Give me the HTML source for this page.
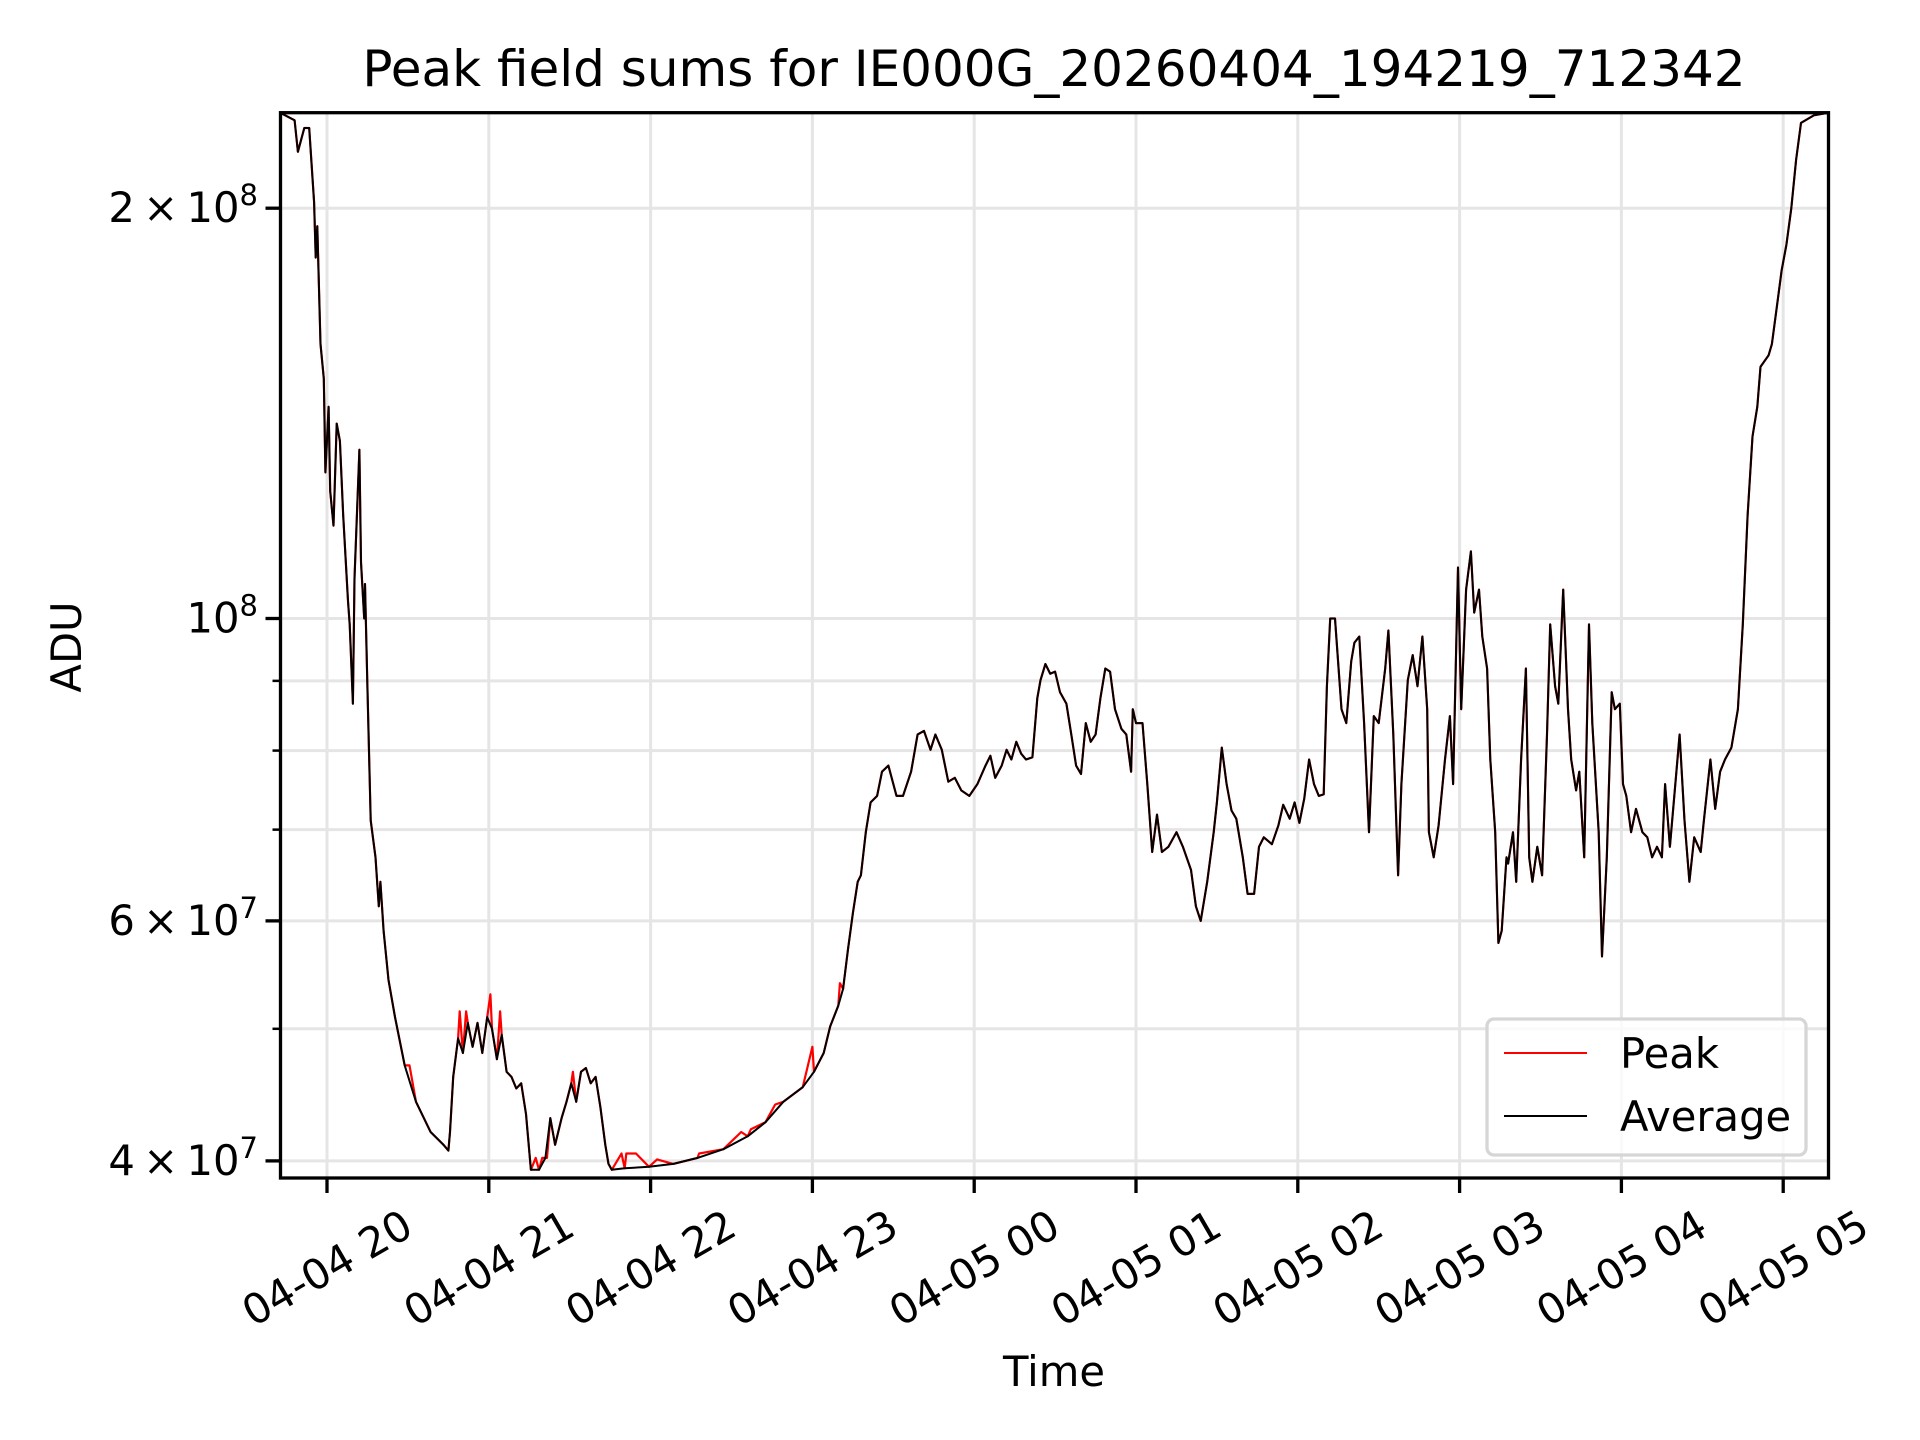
<!DOCTYPE html>
<html><head><meta charset="utf-8"><style>
html,body{margin:0;padding:0;background:#fff;}
svg{display:block;font-family:"DejaVu Sans","Liberation Sans",sans-serif;}
</style></head><body>
<svg id="chart" width="1920" height="1440" viewBox="0 0 1920 1440" xmlns="http://www.w3.org/2000/svg">
<rect x="0" y="0" width="1920" height="1440" fill="#fff"/>
<g id="grid"></g>
<g id="series"></g>
<rect x="280.5" y="112.7" width="1548" height="1065.3" fill="none" stroke="#000" stroke-width="3.3"/>
<g id="ticks"></g>
<text x="1054" y="86" font-size="50" text-anchor="middle">Peak field sums for IE000G_20260404_194219_712342</text>
<text x="1054" y="1386" font-size="41.7" text-anchor="middle">Time</text>
<text transform="translate(81,647) rotate(-90)" font-size="41.7" text-anchor="middle">ADU</text>
<g>
<rect x="1487" y="1019" width="319" height="136" rx="7" fill="#fff" fill-opacity="0.8" stroke="#d6d6d6" stroke-width="3.3"/>
<line x1="1504" y1="1053" x2="1587" y2="1053" stroke="#ff0000" stroke-width="2"/>
<text x="1620" y="1068" font-size="41.7">Peak</text>
<line x1="1504" y1="1116" x2="1587" y2="1116" stroke="#000" stroke-width="2"/>
<text x="1620" y="1131" font-size="41.7">Average</text>
</g>
</svg>
<script>
// hours after 2026-04-04 20:00
const avgTimes = [-0.29,-0.20,-0.18,-0.14,-0.11,-0.08,-0.07,-0.06,-0.04,-0.02,-0.01,0.01,0.02,0.04,0.06,0.08,0.10,0.13,0.14,0.16,0.17,0.20,0.21,0.23,0.235,0.25,0.27,0.30,0.32,0.33,0.35,0.38,0.42,0.48,0.55,0.64,0.72,0.75,0.76,0.78,0.81,0.84,0.87,0.90,0.93,0.96,0.99,1.02,1.05,1.08,1.11,1.14,1.17,1.20,1.23,1.26,1.31,1.35,1.38,1.41,1.45,1.48,1.51,1.54,1.57,1.60,1.63,1.66,1.69,1.72,1.74,1.76,1.84,1.99,2.14,2.29,2.45,2.60,2.71,2.82,2.94,3.01,3.07,3.11,3.16,3.19,3.22,3.25,3.28,3.30,3.33,3.36,3.40,3.43,3.47,3.52,3.56,3.61,3.65,3.69,3.73,3.76,3.80,3.84,3.88,3.92,3.97,4.02,4.07,4.10,4.13,4.17,4.20,4.23,4.26,4.29,4.32,4.36,4.39,4.41,4.44,4.47,4.50,4.53,4.57,4.60,4.63,4.66,4.69,4.72,4.75,4.78,4.81,4.84,4.87,4.91,4.94,4.97,4.98,5.00,5.04,5.07,5.10,5.13,5.16,5.20,5.25,5.29,5.34,5.37,5.40,5.44,5.48,5.50,5.53,5.56,5.59,5.62,5.66,5.69,5.73,5.76,5.79,5.84,5.88,5.91,5.95,5.98,6.01,6.04,6.07,6.10,6.13,6.16,6.18,6.20,6.23,6.27,6.30,6.33,6.35,6.38,6.41,6.44,6.47,6.50,6.54,6.56,6.59,6.62,6.64,6.68,6.71,6.74,6.77,6.80,6.81,6.84,6.87,6.91,6.94,6.96,6.99,7.01,7.04,7.07,7.09,7.12,7.14,7.17,7.19,7.22,7.24,7.26,7.29,7.30,7.33,7.35,7.38,7.41,7.43,7.45,7.48,7.51,7.54,7.56,7.59,7.61,7.64,7.67,7.69,7.72,7.74,7.77,7.80,7.82,7.86,7.88,7.91,7.94,7.96,7.99,8.01,8.03,8.06,8.09,8.13,8.16,8.19,8.22,8.25,8.27,8.30,8.34,8.36,8.39,8.42,8.45,8.49,8.51,8.55,8.58,8.61,8.64,8.68,8.72,8.75,8.78,8.81,8.84,8.86,8.91,8.93,8.96,8.99,9.02,9.05,9.08,9.11,9.19,9.28];
// values in units of 1e7 ADU
const avgValues = [23.5,23.2,22.0,22.9,22.9,20.2,18.4,19.4,15.9,15.0,12.8,14.3,12.4,11.7,13.9,13.5,11.9,10.3,9.9,8.66,10.7,13.3,11.0,10.0,10.6,8.92,7.11,6.68,6.15,6.41,5.90,5.43,5.10,4.70,4.42,4.20,4.11,4.07,4.20,4.61,4.92,4.80,5.05,4.85,5.05,4.80,5.10,5.00,4.75,4.95,4.65,4.61,4.52,4.56,4.33,3.94,3.94,4.02,4.30,4.11,4.30,4.42,4.56,4.42,4.65,4.68,4.56,4.61,4.38,4.11,3.98,3.94,3.95,3.96,3.98,4.02,4.08,4.17,4.27,4.42,4.53,4.65,4.80,5.02,5.20,5.35,5.72,6.08,6.41,6.48,6.97,7.33,7.41,7.72,7.80,7.41,7.41,7.72,8.22,8.27,8.01,8.22,8.01,7.59,7.64,7.48,7.41,7.56,7.80,7.93,7.64,7.80,8.01,7.88,8.12,7.96,7.88,7.91,8.74,9.01,9.26,9.11,9.14,8.83,8.66,8.22,7.80,7.69,8.38,8.12,8.22,8.74,9.19,9.14,8.58,8.30,8.22,7.72,8.58,8.38,8.38,7.56,6.74,7.18,6.74,6.80,6.97,6.80,6.54,6.15,6.00,6.41,6.97,7.33,8.04,7.56,7.23,7.13,6.68,6.28,6.28,6.80,6.91,6.83,7.05,7.30,7.13,7.33,7.08,7.38,7.88,7.56,7.41,7.43,8.92,10.0,10.0,8.58,8.38,9.30,9.60,9.70,8.38,6.97,8.48,8.38,9.19,9.80,8.22,6.48,7.56,9.01,9.40,8.92,9.70,8.58,6.97,6.68,7.05,7.88,8.48,7.56,10.9,8.58,10.5,11.2,10.1,10.5,9.70,9.19,7.88,6.97,5.78,5.90,6.68,6.61,6.97,6.41,7.88,9.19,6.68,6.41,6.80,6.48,8.22,9.90,8.92,8.66,10.5,8.58,7.88,7.48,7.72,6.68,9.90,8.38,6.97,5.65,6.68,8.83,8.58,8.66,7.56,7.41,6.97,7.25,6.97,6.91,6.68,6.80,6.68,7.56,6.80,7.72,8.22,7.11,6.41,6.91,6.74,7.11,7.88,7.25,7.72,7.88,8.04,8.58,9.90,11.9,13.6,14.3,15.3,15.6,15.9,16.9,18.0,18.8,20.0,21.7,23.1,23.4,23.5];
const spikeTimes = [0.51,0.82,0.86,1.01,1.07,1.29,1.33,1.36,1.52,1.82,1.85,1.91,2.04,2.30,2.56,2.62,2.77,3.00,3.17];
const spikeValues = [4.70,5.15,5.15,5.30,5.15,4.02,4.02,4.02,4.65,4.05,4.05,4.05,4.01,4.05,4.20,4.22,4.40,4.85,5.40];
const xTickHours = [0,1,2,3,4,5,6,7,8,9];
const xTickLabels = ["04-04 20","04-04 21","04-04 22","04-04 23","04-05 00","04-05 01","04-05 02","04-05 03","04-05 04","04-05 05"];
const yMajorValues = [4,6,10,20];
const yMajorMant = ["4","6","","2"];
const yMajorExp = ["7","7","8","8"];
const yMinorValues = [5,7,8,9];

const NS="http://www.w3.org/2000/svg";
const L=280.5,R=1828.5,T=112.7,B=1178;
const X0=327, XPH=161.8, Y1E8=618.5, YPD=1363;
function xs(h){return X0+h*XPH;}
function ys(v){return Y1E8-Math.log10(v/10)*YPD;}
function mk(tag,attrs,parent){const e=document.createElementNS(NS,tag);for(const k in attrs)e.setAttribute(k,attrs[k]);parent.appendChild(e);return e;}
const grid=document.getElementById('grid'),ticks=document.getElementById('ticks'),series=document.getElementById('series');

xTickHours.forEach((h,i)=>{
  const x=xs(h);
  const g=mk('line',{x1:x,y1:T,x2:x,y2:B,stroke:'#e5e5e5','stroke-width':3},grid);
  
  
  const t=mk('line',{x1:x,y1:B,x2:x,y2:B+15,stroke:'#000','stroke-width':3.3},ticks);
  
  
  const l=mk('text',{transform:`translate(${x},1268) rotate(-30)`,'font-size':41.7,'text-anchor':'middle','dominant-baseline':'central'},ticks);
  l.textContent=xTickLabels[i];
  
  
});
yMinorValues.forEach(v=>{
  const y=ys(v);
  const g=mk('line',{x1:L,y1:y,x2:R,y2:y,stroke:'#e5e5e5','stroke-width':3},grid);
  
  
  const t=mk('line',{x1:L-8,y1:y,x2:L,y2:y,stroke:'#000','stroke-width':2.5},ticks);
  
  
});
yMajorValues.forEach((v,i)=>{
  const y=ys(v);
  const g=mk('line',{x1:L,y1:y,x2:R,y2:y,stroke:'#e5e5e5','stroke-width':3},grid);
  
  
  const t=mk('line',{x1:L-15,y1:y,x2:L,y2:y,stroke:'#000','stroke-width':3.3},ticks);
  
  
  const l=mk('text',{x:258,y:y+14,'font-size':41.7,'text-anchor':'end'},ticks);
  
  
  const pre = yMajorMant[i] ? yMajorMant[i]+'\u2009\u00d7\u200910' : '10';
  const a=mk('tspan',{},l); a.textContent=pre;
  const b=mk('tspan',{dy:-17,'font-size':29},l); b.textContent=yMajorExp[i];
});
const pk=avgTimes.map((t,i)=>[t,avgValues[i]]);
spikeTimes.forEach((t,i)=>{pk.push([t,spikeValues[i]]);});
pk.sort((a,b)=>a[0]-b[0]);
const clip=mk('clipPath',{id:'pc'},series);
mk('rect',{x:L,y:T,width:R-L,height:B-T},clip);
const peak=mk('polyline',{points:pk.map(p=>xs(p[0]).toFixed(1)+','+ys(p[1]).toFixed(1)).join(' '),fill:'none',stroke:'#ff0000','stroke-width':2.2,'clip-path':'url(#pc)','stroke-linejoin':'round'},series);


const avg=mk('polyline',{points:avgTimes.map((t,i)=>xs(t).toFixed(1)+','+ys(avgValues[i]).toFixed(1)).join(' '),fill:'none',stroke:'#000','stroke-width':2,'clip-path':'url(#pc)','stroke-linejoin':'round'},series);


</script>
</body></html>
